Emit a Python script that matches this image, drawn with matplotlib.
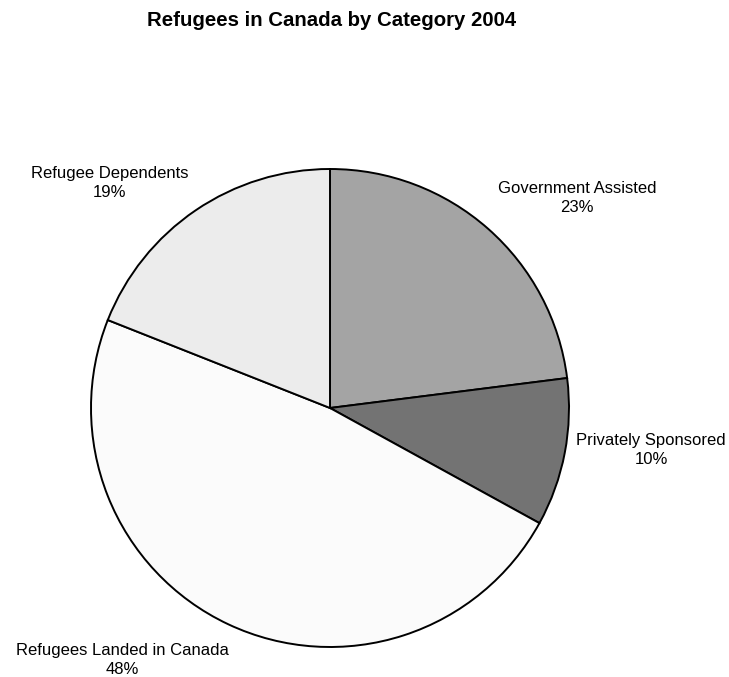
import matplotlib.pyplot as plt

categories = ['Government Assisted', 'Privately Sponsored',
              'Refugees Landed in Canada', 'Refugee Dependents']
shares = [23, 10, 48, 19]

colors = ['#a4a4a4', '#737373', '#fbfbfb', '#ececec']
# label positions in pie units (radius = 1)
label_pos = [(1.033, 0.879), (1.343, -0.176), (-0.87, -1.054), (-0.921, 0.941)]

plt.rcParams['font.family'] = ['Liberation Sans', 'DejaVu Sans']

fig = plt.figure(figsize=(7.29, 6.77), dpi=100)
ax = fig.add_axes([91 / 729, 30 / 677, 478 / 729, 478 / 677])

wedges, _ = ax.pie(shares, colors=colors, startangle=90, counterclock=False,
                   wedgeprops=dict(edgecolor='black', linewidth=1.4))

for name, val, (x, y) in zip(categories, shares, label_pos):
    ax.text(x, y, f'{name}\n{val}%', ha='center', va='center',
            fontsize=12, linespacing=1.3)

ax.set_xlim(-1, 1)
ax.set_ylim(-1, 1)
ax.set_aspect('equal')

fig.text(332 / 729, 1 - 21 / 677, 'Refugees in Canada by Category 2004',
         ha='center', va='center', fontsize=14.7, fontweight='bold')

fig.savefig('out.png', dpi=100)
